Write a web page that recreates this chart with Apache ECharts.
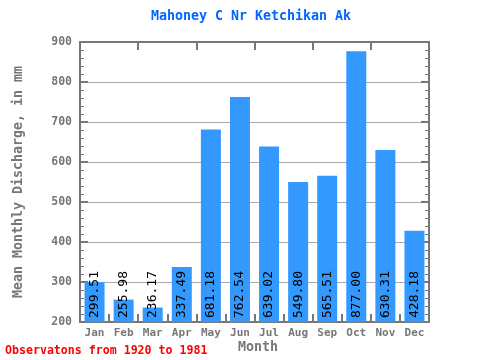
<!DOCTYPE html>
<html><head><meta charset="utf-8">
<script src="https://cdn.jsdelivr.net/npm/echarts@6/dist/echarts.min.js"></script>
<style>html,body{margin:0;padding:0;background:#fff}#c{width:480px;height:360px}</style>
</head><body><div id="c"></div>
<script>
const months = ['Jan','Feb','Mar','Apr','May','Jun','Jul','Aug','Sep','Oct','Nov','Dec'];
const discharge = [299.51,255.98,236.17,337.49,681.18,762.54,639.02,549.80,565.51,877.00,630.31,428.18];
const titleText = 'Mahoney C Nr Ketchikan Ak';
const yName = 'Mean Monthly Discharge, in mm';
const xName = 'Month';
const footText = 'Observatons from 1920 to 1981';
const FONT = 'DejaVu Sans Mono';
const AX = '#777777';
const YMIN = 200;
const chart = echarts.init(document.getElementById('c'));
chart.setOption({
  animation:false,
  grid:{left:80,right:51,top:42,bottom:38},
  title:[
    {text:titleText,left:251,top:10,padding:0,textAlign:'center',textStyle:{fontFamily:FONT,fontSize:13.3,fontWeight:'bold',color:'#0066ff'}},
    {text:footText,left:5,top:345,padding:0,textStyle:{fontFamily:FONT,fontSize:11.6,fontWeight:'bold',color:'#ff0000'}},
    {text:xName,left:258,top:341,padding:0,textAlign:'center',textStyle:{fontFamily:FONT,fontSize:13.3,fontWeight:'bold',color:AX}},
  ],
  xAxis:[
    {type:'category',data:months,position:'bottom',
     axisLine:{lineStyle:{color:AX,width:2}},
     axisTick:{show:true,inside:true,length:8,lineStyle:{color:AX,width:2}},
     axisLabel:{fontFamily:FONT,fontSize:11,fontWeight:'bold',color:AX,margin:6}},
    {type:'category',data:months,position:'top',
     axisLine:{show:true,lineStyle:{color:AX,width:2}},
     axisTick:{show:true,inside:true,length:8,lineStyle:{color:AX,width:2}},
     axisLabel:{show:false}}
  ],
  yAxis:[
    {type:'value',min:YMIN,max:900,interval:100,position:'left',
     name:yName,nameLocation:'middle',nameGap:55,
     nameTextStyle:{fontFamily:FONT,fontSize:13.3,fontWeight:'bold',color:AX},
     axisLine:{show:true,lineStyle:{color:AX,width:2}},
     axisTick:{show:true,inside:true,length:8,lineStyle:{color:AX,width:2}},
     minorTick:{show:true,splitNumber:5,length:4,lineStyle:{color:AX,width:1}},
     splitLine:{show:true,lineStyle:{color:'#aaaaaa',width:1}},
     axisLabel:{fontFamily:FONT,fontSize:11.5,fontWeight:'bold',color:AX,margin:8}},
    {type:'value',min:YMIN,max:900,interval:100,position:'right',
     axisLine:{show:true,lineStyle:{color:AX,width:2}},
     axisTick:{show:true,inside:true,length:8,lineStyle:{color:AX,width:2}},
     minorTick:{show:true,splitNumber:5,length:4,lineStyle:{color:AX,width:1}},
     splitLine:{show:false},
     axisLabel:{show:false}}
  ],
  series:[{
    type:'bar',data:discharge,barWidth:20,
    itemStyle:{color:'#3399ff'},
    label:{show:true,position:'insideBottom',rotate:90,align:'left',verticalAlign:'middle',distance:4,
      formatter:p=>p.value.toFixed(2),
      fontFamily:FONT,fontSize:13,color:'#000',textBorderWidth:0}
  }]
});
</script></body></html>
